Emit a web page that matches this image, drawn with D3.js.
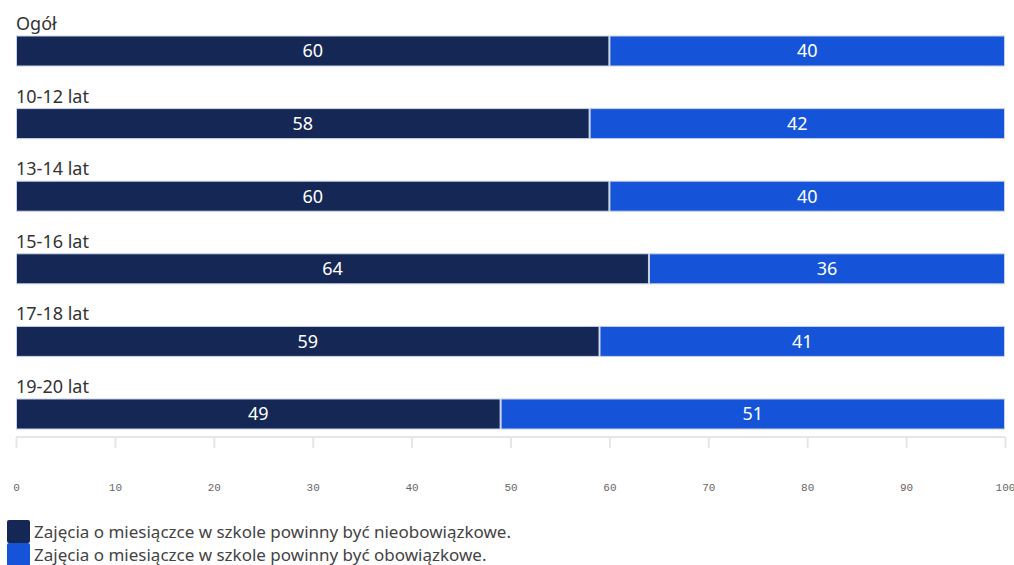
<!DOCTYPE html>
<html><head><meta charset="utf-8">
<script src="https://cdn.jsdelivr.net/npm/d3@7"></script>
<style>body{margin:0;background:#fff;}svg{display:block;}</style>
</head><body>
<svg id="c" width="1014" height="565"></svg>
<script>
const categories = ["Ogół","10-12 lat","13-14 lat","15-16 lat","17-18 lat","19-20 lat"];
const nieobowiazkowe = [60,58,60,64,59,49];
const obowiazkowe = [40,42,40,36,41,51];
const seriesNames = ["Zajęcia o miesiączce w szkole powinny być nieobowiązkowe.","Zajęcia o miesiączce w szkole powinny być obowiązkowe."];
const tickValues = [0,10,20,30,40,50,60,70,80,90,100];

const colors = ["#152754","#1554d8"];
const svg = d3.select("#c");
const x = d3.scaleLinear().domain([0,100]).range([16,1005]);
const bandStep = 72.6, barH = 30;
const font = "'Source Sans Pro','Noto Sans','Open Sans',sans-serif";

const data = categories.map((c,i)=>({c, segs:[{s:0,v:nieobowiazkowe[i],k:0},{s:nieobowiazkowe[i],v:obowiazkowe[i],k:1}]}));
const yTop = i => 36 + i*bandStep;

const g = svg.append("g");
data.forEach((d,i)=>{
  g.append("text").attr("x",16).attr("y",yTop(i)-6).attr("font-family",font).attr("font-size",18).attr("fill","#333").text(d.c);
  d.segs.forEach(s=>{
    g.append("rect").attr("x",x(s.s)+0.5).attr("y",yTop(i)).attr("width",x(s.s+s.v)-x(s.s)-1).attr("height",barH)
      .attr("fill",colors[s.k]).attr("stroke","#c8d2ea").attr("stroke-width",1);
    g.append("text").attr("x",(x(s.s)+x(s.s+s.v))/2).attr("y",yTop(i)+barH/2).attr("dy","0.35em")
      .attr("text-anchor","middle").attr("font-family",font).attr("font-size",18).attr("fill","#fff").text(s.v);
  });
});

// axis
const ax = svg.append("g").attr("transform","translate(0,437)");
ax.append("line").attr("x1",x(0)).attr("x2",x(100)).attr("stroke","#e6e6e6").attr("stroke-width",2);
const axis = d3.axisBottom(x).tickValues(tickValues).tickSize(11).tickPadding(35);
ax.call(axis);
ax.select(".domain").remove();
ax.selectAll(".tick line").attr("stroke","#e6e6e6").attr("stroke-width",2);
ax.selectAll(".tick text").attr("fill","#666").attr("font-size",11).attr("font-family","'Liberation Mono',monospace");

// legend
seriesNames.forEach((n,i)=>{
  svg.append("rect").attr("x",7).attr("y",520+i*23).attr("width",23).attr("height",23).attr("rx",2).attr("fill",colors[i]);
  svg.append("text").attr("x",34).attr("y",532+i*23).attr("dy","0.35em").attr("font-family",font).attr("font-size",17).attr("fill","#444").text(n);
});
</script>
</body></html>
